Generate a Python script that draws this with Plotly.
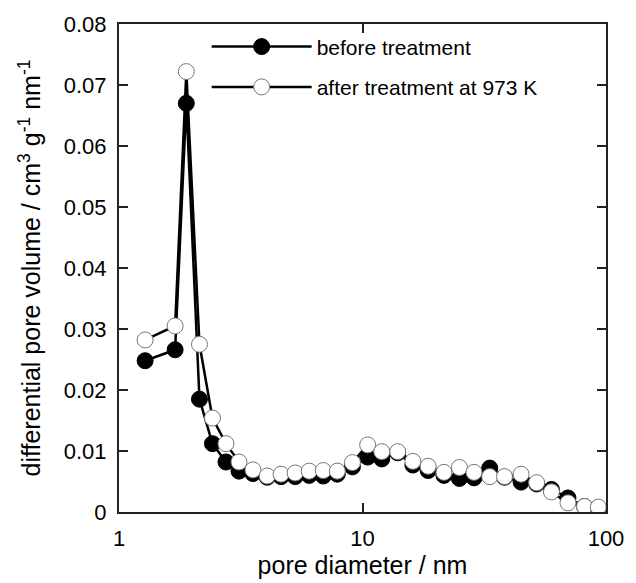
import plotly.graph_objects as go

# pore diameter / nm (shared by both series)
diameter = [1.28, 1.70, 1.89, 2.14, 2.42, 2.75, 3.11, 3.55, 4.06, 4.63, 5.29, 6.04,
            6.90, 7.88, 9.09, 10.5, 12.0, 13.95, 16.1, 18.6, 21.6, 25.0, 28.7,
            33.3, 38.3, 44.8, 51.9, 59.7, 69.8, 81.6, 93.0]

before = [0.0248, 0.0266, 0.0670, 0.0185, 0.0112, 0.0082, 0.0067, 0.0063, 0.0057,
          0.0058, 0.0058, 0.0060, 0.0059, 0.0062, 0.0074, 0.0090, 0.0087, 0.0097,
          0.0077, 0.0068, 0.0060, 0.0055, 0.0056, 0.0072, 0.0057, 0.0049, 0.0046,
          0.0037, 0.0023, 0.0009, 0.0007]

after = [0.0282, 0.0305, 0.0722, 0.0275, 0.0154, 0.0112, 0.0082, 0.0069, 0.0059,
         0.0062, 0.0064, 0.0067, 0.0068, 0.0067, 0.0081, 0.0110, 0.0099, 0.0099,
         0.0083, 0.0075, 0.0065, 0.0073, 0.0065, 0.0058, 0.0058, 0.0062, 0.0048,
         0.0033, 0.0015, 0.0009, 0.0008]

y_ticks = [0, 0.01, 0.02, 0.03, 0.04, 0.05, 0.06, 0.07, 0.08]
y_tick_text = ["0", "0.01", "0.02", "0.03", "0.04", "0.05", "0.06", "0.07", "0.08"]
x_ticks = [1, 10, 100]
x_tick_text = ["1", "10", "100"]

FONT = "Liberation Sans, Arial, sans-serif"

fig = go.Figure()
fig.add_trace(go.Scatter(
    x=diameter, y=before, mode="lines+markers", name="before treatment",
    legendgroup="a",
    line=dict(color="black", width=2.5),
    marker=dict(symbol="circle", size=16, color="black",
                line=dict(color="black", width=1)),
))
fig.add_trace(go.Scatter(
    x=diameter, y=after, mode="lines+markers", name="after treatment at 973 K",
    legendgroup="b",
    line=dict(color="black", width=2.5),
    marker=dict(symbol="circle", size=16, color="white",
                line=dict(color="#777777", width=1)),
))

axis_common = dict(
    showline=True, linecolor="#222222", linewidth=2, mirror="ticks",
    ticks="inside", ticklen=9, tickwidth=1.5, tickcolor="#222222",
    showgrid=False, zeroline=False,
    tickfont=dict(family=FONT, size=22, color="black"),
    title_font=dict(family=FONT, size=25, color="black"),
)

fig.update_xaxes(type="log", range=[0, 2], tickvals=x_ticks, ticktext=x_tick_text,
                 title_text="pore diameter / nm", title_standoff=2,
                 ticklabelstandoff=6, **axis_common)
fig.update_yaxes(range=[0, 0.08], tickvals=y_ticks, ticktext=y_tick_text,
                 title_text="differential pore volume / cm<sup>3</sup> g<sup>-1</sup> nm<sup>-1</sup>",
                 title_standoff=16, ticklabelstandoff=6, **axis_common)

fig.update_layout(
    width=636, height=583,
    margin=dict(l=119, r=26, t=20, b=70),
    paper_bgcolor="white", plot_bgcolor="white",
    showlegend=True,
    legend=dict(x=0.18, y=0.995, xanchor="left", yanchor="top",
                bgcolor="rgba(0,0,0,0)", itemwidth=100,
                font=dict(family=FONT, size=21, color="black"),
                tracegroupgap=10),
)

fig.write_html("out.html")
